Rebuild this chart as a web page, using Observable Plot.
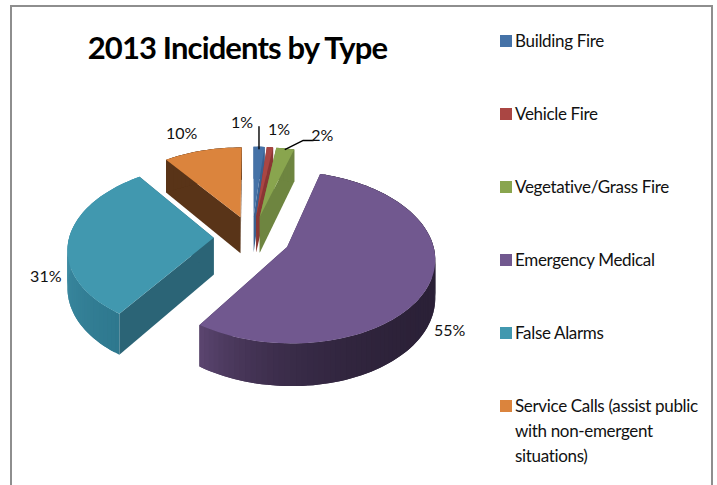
<!DOCTYPE html>
<html><head><meta charset="utf-8">
<script src="https://cdn.jsdelivr.net/npm/d3@7"></script>
<script src="https://cdn.jsdelivr.net/npm/@observablehq/plot@0.6"></script>
<style>
html,body{margin:0;padding:0;background:#fff;width:717px;height:485px;overflow:hidden;font-family:Lato,"Open Sans",sans-serif;color:#111}
#frame{position:absolute;left:10px;top:5px;width:703px;height:480px;border:2px solid #8e8e8e;border-bottom:none;box-sizing:border-box}
#chart{position:absolute;left:0;top:0}
#title{position:absolute;left:40px;top:28px;width:395px;text-align:center;font-size:31px;font-weight:700;letter-spacing:-.87px;margin:0;color:#000;white-space:nowrap}
.lg{position:absolute;left:500px;font-size:17px;line-height:25px;letter-spacing:-.33px}
.lg i{position:absolute;left:0;top:6px;width:12px;height:12px}
.lg span{display:block;margin-left:15px;width:195px;position:relative;top:-1px}
</style></head><body>
<div id="frame"></div>
<div id="chart"></div>
<h1 id="title"></h1>
<script>
const titleText = "2013 Incidents by Type";
const categories = ["Building Fire","Vehicle Fire","Vegetative/Grass Fire","Emergency Medical","False Alarms","Service Calls (assist public with non-emergent situations)"];
const legendLines = [["Building Fire"],["Vehicle Fire"],["Vegetative/Grass Fire"],["Emergency Medical"],["False Alarms"],["Service Calls (assist public","with non-emergent","situations)"]];
const values = [1.4,0.8,2.3,55,30.5,10];
const topColors = ["#4572a7","#aa4643","#89a54e","#71588f","#4198af","#db843d"];
const sideColors = ["#3a6090","#8a3634","#6e8540","#3f2f52","#2b6476","#593418"];
const rimStart = ["#3a6090","#8a3634","#6e8540","#2a2036","#2e788e","#593418"];
const rimEnd = ["#3a6090","#8a3634","#6e8540","#5b4570","#4a9db6","#593418"];
const rimEase = [1,1,1,6,1,1];
const drawOrder = [5,0,1,2,4,3];
const labelNudge = [[-17,-24],[9,-17],[37,-13],[21,46],[-23,38],[-21,-17]];

const view = {ox:251.5,oy:237,a:144.5,b:82.6,k:0.119,depth:37,explode:0.265};
const project = (X,Y,Z) => {
  const den = 1 - view.k*Y;
  return {x:view.ox + view.a*X/den, y:view.oy + (view.b*Y + view.depth*Z)/den};
};
const arcs = d3.pie().sort(null)(values);
const deg = Math.PI/180;
const slices = arcs.map((d,i)=>{
  const mid=(d.startAngle+d.endAngle)/2;
  return {i,start:d.startAngle,end:d.endAngle,mid,ex:view.explode*Math.sin(mid),ey:-view.explode*Math.cos(mid)};
});
const rim=(s,t,Z=0)=>project(s.ex+Math.sin(t),s.ey-Math.cos(t),Z);
const apex=(s,Z=0)=>project(s.ex,s.ey,Z);
const sweep=s=>{const n=Math.max(2,Math.ceil((s.end-s.start)/(2*deg)));return d3.range(n+1).map(j=>s.start+(s.end-s.start)*j/n);};

const rows=[];
let id=0;
const addPoly=(pts,color)=>{const z=id++;pts.forEach(p=>rows.push({x:p.x,y:p.y,z,color}));};
for(const i of drawOrder){
  const s=slices[i];
  addPoly([apex(s),rim(s,s.start),rim(s,s.start,1),apex(s,1)],sideColors[i]);
  addPoly([apex(s),rim(s,s.end),rim(s,s.end,1),apex(s,1)],sideColors[i]);
  const ts=sweep(s);
  const mix=d3.interpolateRgb(rimStart[i],rimEnd[i]);
  // each wall band reaches over its neighbour so no seam shows between them
  ts.slice(1).forEach((t,j)=>{
    const to=ts[Math.min(j+2,ts.length-1)];
    addPoly([rim(s,ts[j]),rim(s,t),rim(s,to),rim(s,to,1),rim(s,t,1),rim(s,ts[j],1)],mix(Math.pow((j+.5)/(ts.length-1),rimEase[i])));
  });
  addPoly([apex(s),...ts.map(t=>rim(s,t))],topColors[i]);
}
const labels=slices.map(s=>{
  const p=rim(s,s.mid);
  return {x:p.x+labelNudge[s.i][0],y:p.y+labelNudge[s.i][1],text:Math.round(values[s.i])+"%"};
});
const leaders=[];
{const p=rim(slices[0],slices[0].mid);[[0,2],[0,-20]].forEach(o=>leaders.push({x:p.x+o[0],y:p.y+o[1],z:"a"}));}
{const p=rim(slices[2],slices[2].mid);[[0,1],[18,-8],[28,-8]].forEach(o=>leaders.push({x:p.x+o[0],y:p.y+o[1],z:"b"}));}

const plot=Plot.plot({
  width:717,height:485,margin:0,
  x:{domain:[0,717],range:[0,717],axis:null},
  y:{domain:[0,485],range:[0,485],axis:null},
  marks:[
    Plot.line(rows,{x:"x",y:"y",z:"z",fill:"color",curve:"linear",stroke:null}),
    Plot.line(leaders,{x:"x",y:"y",z:"z",stroke:"#000",strokeWidth:1.4}),
    Plot.text(labels,{x:"x",y:"y",text:"text",fontSize:16,fontFamily:"Lato",fill:"#111"})
  ]
});
plot.style.background="transparent";
document.getElementById("chart").append(plot);
document.getElementById("title").textContent=titleText;
legendLines.forEach((lines,i)=>{
  const d=document.createElement("div");d.className="lg";d.style.top=(29+73*i)+"px";
  const sw=document.createElement("i");sw.style.background=topColors[i];d.append(sw);
  const sp=document.createElement("span");sp.innerHTML=lines.join("<br>");d.append(sp);
  document.body.append(d);
});
</script>
</body></html>
